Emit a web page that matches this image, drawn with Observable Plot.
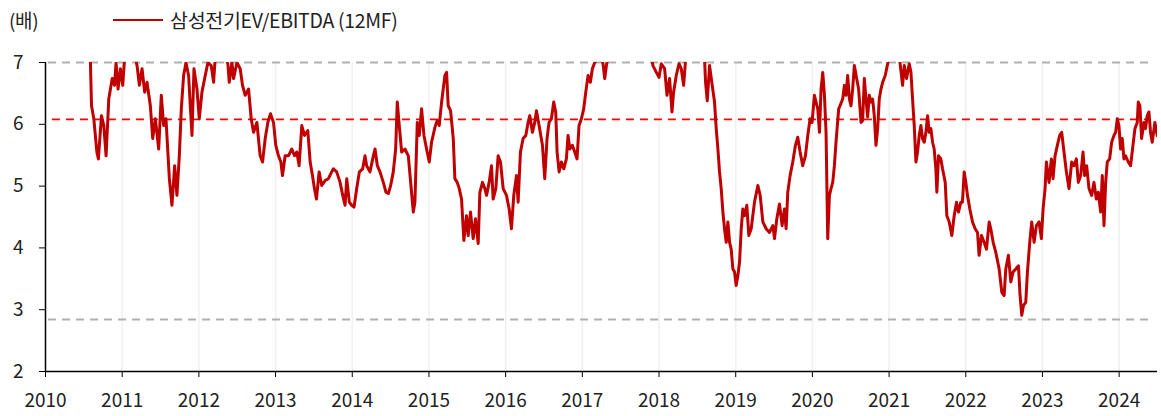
<!DOCTYPE html>
<html>
<head>
<meta charset="utf-8">
<script src="https://cdn.jsdelivr.net/npm/d3@7"></script>
<script src="https://cdn.jsdelivr.net/npm/@observablehq/plot@0.6"></script>
<style>
  body { margin: 0; background: #fff; font-family: "Noto Sans CJK KR", "Noto Sans", sans-serif; }
  #wrap { position: relative; width: 1161px; height: 416px; }
  #unit { position: absolute; left: 9px; top: 6px; font-size: 19px; line-height: 28px; color: #222; letter-spacing: -0.3px; }
  #legend { position: absolute; left: 113px; top: 6px; font-size: 19.5px; line-height: 28px; color: #222; display: flex; align-items: center; letter-spacing: -0.3px; }
  #legend .sw { width: 50px; height: 0; border-top: 2.5px solid #c00000; margin-right: 7px; }
  svg text { font-family: "Noto Sans CJK KR", "Noto Sans", sans-serif; font-size: 19px; fill: #222; }
</style>
</head>
<body>
<div id="wrap">
  <div id="unit">(배)</div>
  <div id="legend"><span class="sw"></span><span>삼성전기EV/EBITDA (12MF)</span></div>
</div>
<script>
// Decimal-year dates and EV/EBITDA (12MF) values
const dates = [
2010.58,2010.60,2010.63,2010.67,2010.69,2010.73,2010.76,2010.79,2010.825,2010.87,2010.90,2010.92,2010.946,2010.977,2011.007,2011.033,2011.09,2011.15,2011.194,2011.224,2011.259,2011.293,2011.324,2011.367,2011.398,2011.432,2011.476,2011.51,2011.541,2011.571,2011.615,2011.649,2011.684,2011.714,2011.745,2011.771,2011.801,2011.832,2011.866,2011.91,2011.936,2011.975,2012.005,2012.04,2012.083,2012.118,2012.161,2012.192,2012.214,2012.28,2012.378,2012.396,2012.431,2012.452,2012.496,2012.539,2012.569,2012.604,2012.648,2012.682,2012.713,2012.756,2012.799,2012.83,2012.865,2012.899,2012.934,2012.973,2013.003,2013.038,2013.069,2013.09,2013.125,2013.168,2013.212,2013.247,2013.277,2013.307,2013.342,2013.377,2013.42,2013.451,2013.481,2013.507,2013.533,2013.568,2013.602,2013.646,
2013.689,2013.732,2013.754,2013.797,2013.841,2013.876,2013.906,2013.928,2013.962,2013.993,2014.023,2014.058,2014.093,2014.136,2014.166,2014.188,2014.231,2014.275,2014.297,2014.327,2014.362,2014.405,2014.44,2014.47,2014.501,2014.535,2014.566,2014.587,2014.613,2014.644,2014.687,2014.731,2014.765,2014.796,2014.817,2014.848,2014.874,2014.904,2014.935,2014.969,2015.004,2015.034,2015.078,2015.108,2015.134,2015.165,2015.186,2015.208,2015.23,2015.251,2015.282,2015.317,2015.338,2015.369,2015.395,2015.425,2015.455,2015.49,2015.512,2015.542,2015.577,2015.607,2015.642,2015.664,2015.698,2015.729,2015.751,2015.785,2015.816,2015.837,2015.872,2015.902,2015.933,2015.968,2016.011,2016.046,2016.076,2016.106,2016.141,2016.163,2016.193,2016.228,2016.263,2016.293,2016.315,2016.349,2016.38,2016.402,2016.436,2016.48,2016.51,2016.54,2016.566,2016.597,2016.627,2016.653,2016.671,2016.697,2016.727,2016.758,2016.792,2016.814,2016.836,2016.87,2016.901,2016.931,2016.957,
2016.988,2017.018,2017.045,2017.075,2017.105,2017.131,2017.162,2017.192,2017.227,2017.27,2017.292,2017.314,2017.335,2017.5,2017.8,2017.9,2017.921,2017.965,2018.0,2018.03,2018.073,2018.104,2018.138,2018.169,2018.19,2018.225,2018.26,2018.29,2018.321,2018.347,2018.45,2018.594,2018.607,2018.629,2018.659,2018.694,2018.724,2018.746,2018.768,2018.789,2018.811,2018.833,2018.854,2018.876,2018.898,2018.92,2018.941,2018.963,2018.985,2019.006,2019.028,2019.05,2019.072,2019.093,2019.115,2019.145,2019.171,2019.202,2019.245,2019.289,2019.319,2019.354,2019.397,2019.44,2019.484,2019.506,2019.536,2019.571,2019.605,2019.636,2019.657,2019.679,2019.709,2019.744,2019.779,2019.809,2019.84,2019.874,2019.909,2019.94,2019.97,2019.996,2020.026,2020.048,2020.07,2020.092,2020.113,2020.135,2020.157,2020.178,2020.2,2020.222,2020.243,2020.265,2020.287,2020.308,2020.343,
2020.36,2020.395,2020.417,2020.438,2020.46,2020.482,2020.503,2020.525,2020.547,2020.577,2020.603,2020.634,2020.655,2020.677,2020.699,2020.72,2020.742,2020.764,2020.785,2020.807,2020.829,2020.851,2020.872,2020.894,2020.916,2020.95,2020.981,2021.024,2021.133,2021.176,2021.198,2021.228,2021.263,2021.285,2021.306,2021.328,2021.35,2021.371,2021.393,2021.415,2021.436,2021.458,2021.48,2021.502,2021.523,2021.545,2021.567,2021.588,2021.61,2021.623,2021.645,2021.675,2021.697,2021.732,2021.753,2021.784,2021.818,2021.849,2021.879,2021.905,2021.936,2021.957,2021.979,2022.001,2022.022,2022.053,2022.088,2022.122,2022.153,2022.174,2022.205,2022.239,2022.27,2022.305,2022.326,2022.357,2022.391,2022.435,2022.47,2022.5,2022.522,2022.556,2022.587,2022.617,2022.652,2022.687,2022.708,2022.73,2022.752,2022.782,2022.804,2022.834,2022.86,2022.891,2022.921,2022.956,2022.986,2023.008,2023.034,2023.051,2023.086,2023.116,2023.138,2023.164,2023.194,2023.225,2023.251,2023.281,2023.312,2023.346,2023.381,2023.411,2023.442,2023.468,2023.498,2023.529,2023.55,2023.576,2023.607,2023.641,2023.672,2023.702,2023.728,2023.759,2023.78,2023.802,2023.824,2023.845,2023.876,2023.902,2023.932,2023.954,2023.976,2023.997,2024.019,2024.041,2024.062,2024.084,2024.119,2024.149,2024.18,2024.206,2024.236,2024.249,2024.271,2024.292,2024.323,2024.344,2024.366,2024.388,2024.409,2024.431,2024.466,2024.496
];
const evEbitda = [
7.3,6.30,6.09,5.55,5.44,6.14,5.98,5.49,6.41,6.74,6.63,7.0,6.57,6.90,6.63,7.1,7.3,7.2,6.95,6.63,6.90,6.52,6.68,6.30,5.77,6.09,5.60,6.47,5.98,6.09,5.12,4.69,5.33,4.85,5.49,6.25,6.79,7.0,6.79,5.82,6.90,6.57,6.09,6.52,6.79,7.0,6.95,6.68,7.1,7.3,6.98,6.68,7.0,6.74,7.0,6.90,6.63,6.47,6.57,6.09,5.87,6.03,5.49,5.39,5.77,6.03,6.17,6.03,5.66,5.49,5.39,5.17,5.49,5.49,5.60,5.49,5.55,5.33,5.98,5.82,5.90,5.39,5.17,4.96,4.79,5.23,5.01,5.09,
5.12,5.23,5.28,5.23,5.06,4.85,4.69,5.12,4.74,4.69,4.66,4.96,5.23,5.28,5.49,5.33,5.23,5.49,5.60,5.33,5.23,5.06,4.90,4.88,5.01,5.23,5.60,6.36,5.98,5.55,5.60,5.49,5.01,4.58,4.74,6.03,5.82,6.25,5.82,5.60,5.39,5.71,5.95,6.06,5.98,6.36,6.57,6.79,6.84,6.30,6.22,5.77,5.12,5.06,4.96,4.79,4.12,4.52,4.20,4.58,4.15,4.47,4.07,4.90,5.06,4.96,4.85,5.06,5.33,4.79,4.96,5.49,5.39,4.96,4.85,4.63,4.31,4.85,5.17,4.74,5.55,5.77,5.82,6.03,6.14,5.87,6.03,6.22,5.98,5.66,5.12,5.77,6.03,6.09,6.36,6.20,5.55,5.23,5.39,5.28,5.44,5.82,5.60,5.66,5.55,5.44,5.98,
6.09,6.25,6.52,6.79,6.68,6.90,7.0,7.05,7.2,6.98,6.74,6.95,7.1,7.4,7.3,7.1,6.95,6.84,6.76,6.98,6.90,6.47,6.74,6.20,6.52,6.79,6.98,6.90,6.63,7.05,7.3,7.05,6.68,6.38,6.95,6.63,6.36,5.93,5.60,5.23,4.96,4.58,4.31,4.09,4.42,4.09,3.98,3.66,3.61,3.39,3.55,3.77,4.31,4.63,4.52,4.69,4.20,4.31,4.74,5.01,4.85,4.42,4.31,4.25,4.36,4.15,4.47,4.71,4.36,4.63,4.31,4.90,5.17,5.39,5.66,5.79,5.55,5.33,5.49,5.82,6.09,6.03,6.47,6.36,6.25,5.87,6.57,6.84,6.47,5.87,4.15,4.85,4.96,5.06,5.33,5.71,6.25,
6.30,6.41,6.63,6.47,6.79,6.41,6.30,6.57,6.95,6.74,6.57,6.03,6.06,6.74,6.41,6.12,6.47,6.36,6.41,6.14,5.66,5.93,6.41,6.57,6.68,6.79,6.98,7.2,7.1,6.63,6.95,6.74,6.98,6.84,6.41,5.98,5.39,5.55,5.82,5.98,5.77,5.71,5.87,6.14,5.87,5.93,5.71,5.60,5.28,4.90,5.49,5.44,5.28,5.06,4.52,4.42,4.20,4.52,4.74,4.58,4.74,4.74,5.23,5.06,4.85,4.63,4.42,4.31,4.25,3.88,4.20,4.09,3.98,4.42,4.31,4.09,3.93,3.66,3.28,3.23,3.66,3.88,3.45,3.61,3.66,3.71,3.23,2.91,3.07,3.12,3.61,4.09,4.42,4.09,4.36,4.42,4.15,4.63,4.96,5.39,5.06,5.44,5.12,5.49,5.66,5.82,5.87,5.55,5.23,4.96,5.39,5.33,5.44,5.06,5.17,5.55,5.17,5.33,4.96,4.85,5.06,4.79,4.90,4.58,5.17,4.36,5.06,5.39,5.44,5.71,5.82,5.87,6.09,5.98,5.60,5.77,5.44,5.49,5.39,5.33,5.66,5.93,6.03,6.36,6.30,5.77,6.03,5.93,6.14,6.20,5.87,5.71,6.03,5.82
];
const xTicks = [2010,2011,2012,2013,2014,2015,2016,2017,2018,2019,2020,2021,2022,2023,2024];
const yTicks = [2,3,4,5,6,7];
const avgLevel = 6.08;   // red dashed (average)
const bandLevels = [7, 2.84]; // gray dashed (high / low)

const series = dates.map((d, i) => ({date: d, value: evEbitda[i]}));

const chart = Plot.plot({
  width: 1161,
  height: 416,
  marginTop: 62,
  marginBottom: 45,
  marginLeft: 45,
  marginRight: 4,
  style: {fontSize: "19px", color: "#222", background: "transparent"},
  x: {domain: [2010, 2024.5], label: null},
  y: {domain: [2, 7], label: null},
  marks: [
    Plot.ruleX(xTicks.slice(1), {stroke: "#f0f0f0", strokeWidth: 1.5}),
    Plot.ruleY(bandLevels, {x1: 2010.04, x2: 2024.42, stroke: "#b0b0b0", strokeWidth: 2, strokeDasharray: "8,6"}),
    Plot.ruleY([avgLevel], {x1: 2010.09, x2: 2024.42, stroke: "#ff0000", strokeWidth: 1.8, strokeDasharray: "8,6"}),
    Plot.line(series, {x: "date", y: "value", stroke: "#c00000", strokeWidth: 3, clip: true}),
    Plot.axisX({ticks: xTicks, tickFormat: d => String(d), tickSize: 6, tickPadding: 16, stroke: "#000"}),
    Plot.axisY({ticks: yTicks, tickFormat: d => String(d), tickSize: 6, tickPadding: 16, stroke: "#000"}),
    Plot.ruleX([2010], {stroke: "#000", strokeWidth: 1.5}),
    Plot.ruleY([2], {stroke: "#000", strokeWidth: 1.5})
  ]
});
document.getElementById("wrap").prepend(chart);
chart.style.position = "absolute";
chart.style.left = "0";
chart.style.top = "0";
</script>
</body>
</html>
